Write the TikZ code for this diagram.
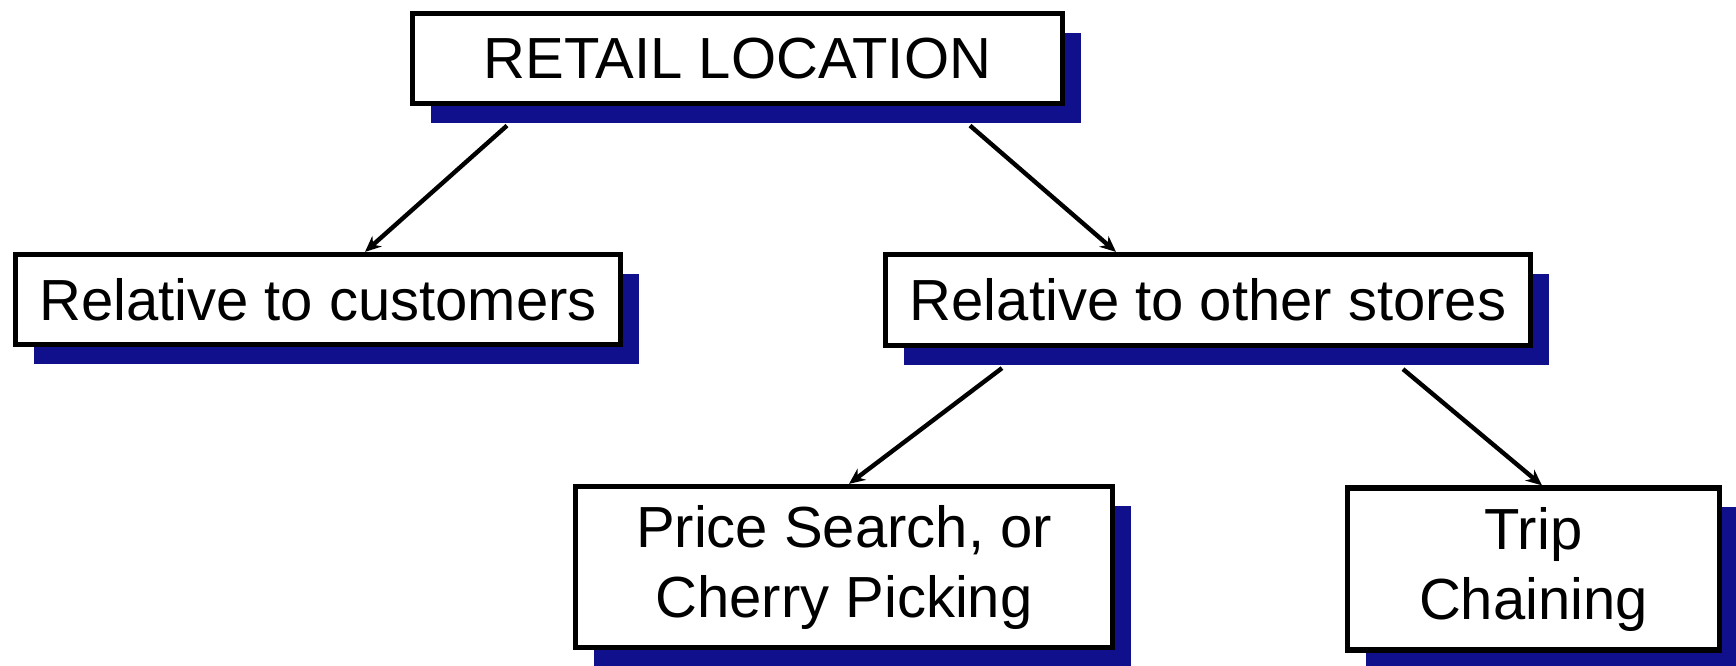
\documentclass[tikz,border=0pt]{standalone}
\usepackage{fontspec}
\setmainfont{Liberation Sans}
\usetikzlibrary{arrows.meta,shadows,calc}
\definecolor{shadowblue}{RGB}{16,16,140}
\tikzset{
  box/.style={draw=black, line width=2.6pt, fill=white, rectangle, align=center,
    inner sep=0pt, font=\fontsize{29}{35}\selectfont,
    drop shadow={shadow xshift=9pt, shadow yshift=-9.5pt, fill=shadowblue, opacity=1}},
  arr/.style={line width=2.2pt, -{Stealth[length=8pt,width=7pt]}}
}
\begin{document}
\begin{tikzpicture}[x=0.5pt,y=-0.5pt]
\useasboundingbox (0,0) rectangle (1736,665);
\node[box, minimum width=325pt, minimum height=45pt] (top) at (737.5,58.5) {RETAIL LOCATION};
\node[box, minimum width=302.5pt, minimum height=45pt] (left) at (318,299.5) {Relative to customers};
\node[box, minimum width=322.5pt, minimum height=45.5pt] (right) at (1208,300) {Relative to other stores};
\node[box, minimum width=268.5pt, minimum height=80.5pt] (price) at (844,567) {Price Search, or\\Cherry Picking};
\node[box, minimum width=186pt, minimum height=81pt] (trip) at (1533.5,569) {Trip\\Chaining};
\draw[arr] ($(top.south)+(-230.5,19.5)$) -- ($(left.north)+(47,0)$);
\draw[arr] ($(top.south)+(232.5,19.5)$) -- ($(right.north)+(-92,0)$);
\draw[arr] ($(right.south)+(-206,20)$) -- ($(price.north)+(5,0)$);
\draw[arr] ($(right.south)+(195,21)$) -- ($(trip.north)+(8.5,0)$);
\end{tikzpicture}
\end{document}
